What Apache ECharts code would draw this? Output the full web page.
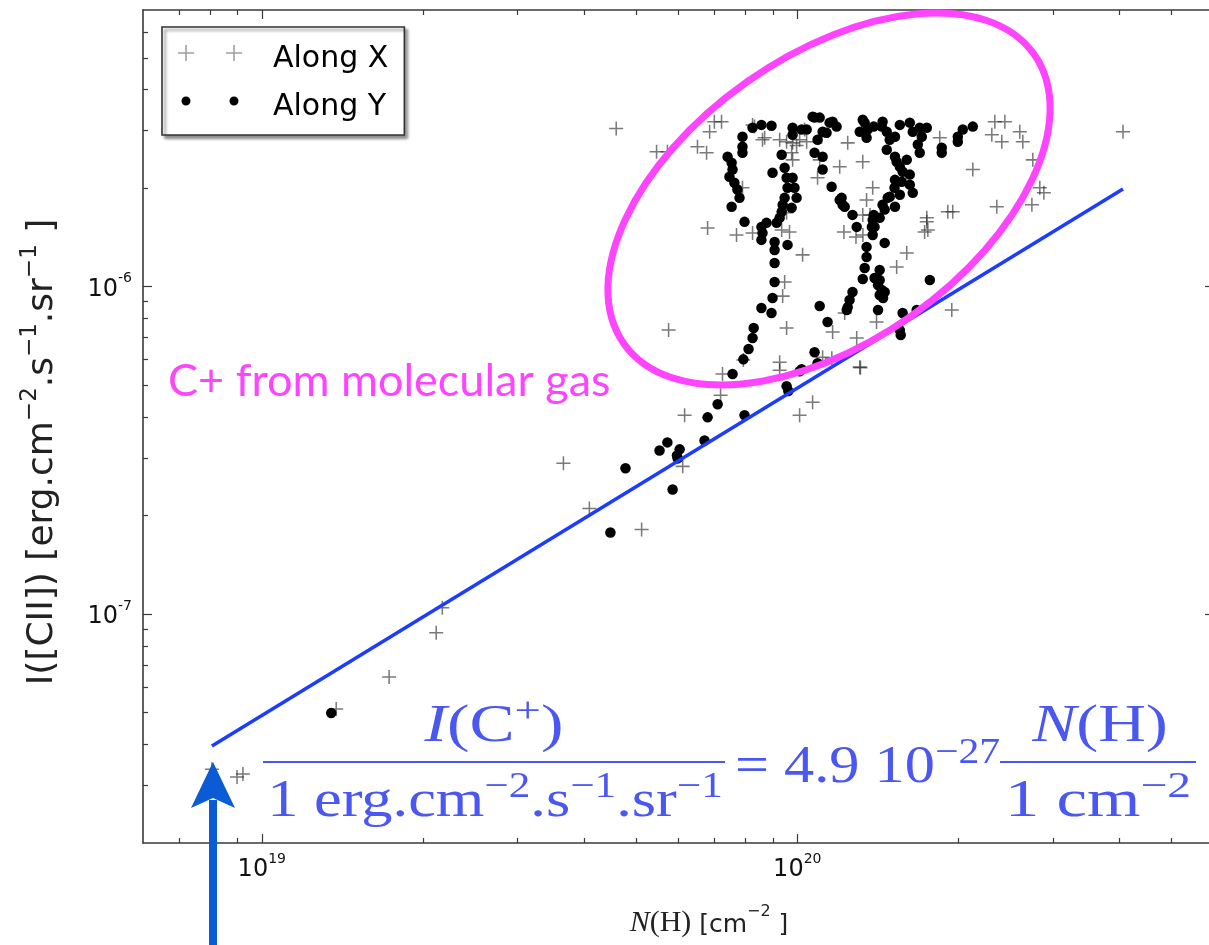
<!DOCTYPE html>
<html>
<head>
<meta charset="utf-8">
<script src="https://cdn.jsdelivr.net/npm/echarts@6/dist/echarts.min.js"></script>
<style>
  html, body { margin: 0; padding: 0; background: #ffffff; }
  #chart { width: 1209px; height: 945px; }
</style>
</head>
<body>
<div id="chart"></div>
<script>
// Column density N(H) in units of 1e20 cm^-2, [CII] intensity in units of 1e-6 erg cm^-2 s^-1 sr^-1
const N_UNIT = 1e20;
const I_UNIT = 1e-6;

// Cut along X
const alongXN = [
  0.0807, 0.0899, 0.0922, 0.1377, 0.1729, 0.2117, 0.2173, 0.3658, 0.409, 0.512,
  0.611, 0.616, 0.719, 0.725, 0.793, 0.575, 0.927, 0.927, 0.955, 0.939,
  0.947, 1.010, 1.068, 1.164, 1.226, 1.291, 1.115, 1.160, 1.308, 1.312,
  1.406, 1.533, 1.601, 1.943, 0.967, 1.023, 1.222, 1.287, 1.326, 1.729,
  1.745, 0.680, 0.770, 0.825, 0.790, 0.459, 0.546, 0.572, 0.651, 0.677,
  0.686, 0.700, 0.722, 0.825, 0.861, 0.927, 0.955, 0.980, 1.010, 0.976,
  0.980, 1.032, 1.101, 1.200, 1.091, 1.242, 1.325, 1.383, 1.347, 1.110,
  0.997, 1.041, 0.869, 1.845, 1.367, 1.325, 1.951, 1.910, 1.745, 1.753,
  2.127, 2.358, 2.338, 2.441, 2.308, 2.409, 2.603, 2.637, 2.753, 2.837,
  2.887, 2.742, 4.057, 0.955, 0.935, 0.832
];
const alongXI = [
  0.0336, 0.0318, 0.0325, 0.0513, 0.0643, 0.0877, 0.1046, 0.2888, 0.2102, 0.1813,
  0.2827, 0.405, 0.466, 0.541, 0.597, 0.737, 0.588, 0.556, 0.748, 0.936,
  1.034, 0.405, 0.444, 0.727, 0.831, 0.697, 0.609, 0.605, 0.568, 0.566,
  0.780, 1.149, 1.268, 0.849, 1.470, 1.251, 1.470, 1.419, 1.439, 1.470,
  1.578, 1.512, 1.439, 1.459, 2.005, 3.04, 2.585, 2.585, 2.677, 2.567,
  2.975, 3.19, 3.19, 3.12, 2.81, 2.81, 2.77, 2.75, 2.81, 2.567,
  2.44, 3.02, 2.44, 2.325, 2.151, 2.75, 2.408, 2.005, 1.84, 2.872,
  2.70, 2.77, 2.852, 2.852, 1.657, 1.657, 1.693, 1.693, 1.623, 1.49,
  2.28, 1.754, 3.19, 3.19, 2.91, 2.77, 2.975, 2.77, 2.44, 2.005,
  1.935, 1.78, 2.975, 1.681, 1.49, 3.083
];

// Cut along Y
const alongYN = [
  0.1348, 0.4477, 0.4777, 0.553, 0.572, 0.603, 0.596, 0.598, 0.585, 0.671,
  0.680, 0.710, 0.797, 0.757, 0.793, 0.811, 0.825, 0.829, 0.857, 0.895,
  0.899, 0.907, 0.907, 0.907, 0.959, 0.907, 0.861, 0.857, 0.797, 0.857,
  0.927, 0.915, 0.876, 0.935, 0.939, 0.947, 0.959, 0.955, 0.947, 0.899,
  0.935, 0.980, 0.988, 0.997, 0.976, 0.790, 0.790, 0.790, 0.741, 0.754,
  0.757, 0.747, 0.763, 0.773, 0.780, 0.754, 0.825, 0.857, 0.895, 0.980,
  1.019, 1.041, 0.980, 1.077, 1.101, 1.115, 1.164, 1.184, 1.134, 1.091,
  1.077, 1.115, 1.115, 1.159, 1.210, 1.215, 1.268, 1.291, 1.394, 1.383,
  1.347, 1.347, 1.336, 1.325, 1.394, 1.425, 1.415, 1.438, 1.425, 1.456,
  1.446, 1.415, 1.268, 1.252, 1.242, 1.237, 1.101, 1.139, 1.573, 1.671,
  1.768, 1.554, 1.560, 1.077, 1.091, 1.019, 0.955, 1.010, 1.325, 1.353,
  1.308, 1.438, 1.488, 1.469, 1.522, 1.519, 1.488, 1.456, 1.425, 1.336,
  1.347, 1.389, 1.443, 1.469, 1.522, 1.554, 1.622, 1.643, 1.693, 1.745,
  1.708, 1.679, 1.533, 1.554, 1.601, 1.573, 1.622, 1.567, 1.622, 1.522,
  1.643, 1.554, 1.475, 1.443, 1.522, 1.389, 1.383, 1.378, 1.861, 1.861,
  1.994, 1.994, 2.037, 2.127, 1.693, 1.456, 1.425, 1.226, 1.200, 1.149,
  1.068, 0.962
];
const alongYI = [
  0.0499, 0.1775, 0.2788, 0.316, 0.3346, 0.3186, 0.3053, 0.299, 0.2403, 0.339,
  0.399, 0.4375, 0.405, 0.541, 0.600, 0.645, 0.697, 0.748, 0.8605, 0.831,
  0.9235, 1.034, 1.182, 1.295, 1.342, 1.370, 1.459, 1.523, 1.578, 1.39,
  1.623, 1.567, 1.567, 1.693, 1.78, 1.868, 2.005, 2.151, 2.308, 2.228,
  2.53, 2.151, 2.005, 1.868, 1.741, 2.872, 2.677, 2.566, 2.495, 2.391,
  2.28, 2.166, 2.077, 1.98, 1.868, 1.754, 3.06, 3.12, 3.10, 3.06,
  3.02, 3.02, 2.91, 3.284, 3.284, 2.975, 3.19, 3.083, 2.954, 2.81,
  2.566, 2.495, 2.28, 2.02, 1.868, 1.78, 1.657, 1.523, 1.523, 1.439,
  1.323, 1.233, 1.141, 1.056, 1.063, 1.048, 1.012, 0.977, 0.943, 0.963,
  0.9235, 0.849, 0.963, 0.911, 0.866, 0.849, 0.873, 0.780, 0.831, 0.849,
  1.048, 0.737, 0.712, 0.631, 0.584, 0.560, 0.497, 0.552, 3.237, 3.02,
  2.975, 3.083, 2.81, 2.62, 2.495, 2.005, 1.882, 1.72, 1.623, 3.17,
  2.852, 3.083, 3.19, 2.975, 2.872, 3.12, 3.17, 2.975, 3.06, 3.06,
  2.872, 2.72, 2.408, 2.325, 2.44, 2.244, 2.20, 2.092, 2.05, 2.12,
  1.935, 1.91, 1.868, 1.78, 1.754, 1.657, 1.60, 1.523, 2.658, 2.566,
  2.872, 2.77, 3.02, 3.083, 2.566, 1.361, 1.125, 1.754, 1.84, 3.17,
  3.307, 0.48
];

// Linear relation I(C+) = 4.9e-27 N(H)
const FIT_COEF = 4.9e-27;

// Axis extents and tick positions (physical units)
const xRange = [6e18, 6e20];
const yRange = [2e-8, 7e-6];
const xMajor = [1e19, 1e20];
const xMinor = [7e18, 8e18, 9e18, 2e19, 3e19, 4e19, 5e19, 6e19, 7e19, 8e19, 9e19, 2e20, 3e20, 4e20, 5e20];
const yMajor = [1e-7, 1e-6];
const yMinor = [3e-8, 4e-8, 5e-8, 6e-8, 7e-8, 8e-8, 9e-8, 2e-7, 3e-7, 4e-7, 5e-7, 6e-7, 7e-7, 8e-7, 9e-7, 2e-6, 3e-6, 4e-6, 5e-6, 6e-6];

const seriesNames = ['Along X', 'Along Y'];

// Both axes are logarithmic: values are plotted as log10 on value axes
const lg = Math.log10;
const toPoints = (ns, is) => ns.map((n, k) => [lg(n * N_UNIT), lg(is[k] * I_UNIT)]);

const allN = alongXN.concat(alongYN);
const nLo = Math.min(...allN) * N_UNIT;
const nHi = Math.max(...allN) * N_UNIT;
const fitPoints = [[lg(nLo), lg(FIT_COEF * nLo)], [lg(nHi), lg(FIT_COEF * nHi)]];

const FRAME = '#3a3a3a';
const SANS = 'DejaVu Sans';
const SERIF = 'Liberation Serif';

const expLabel = v => '{b|10}{s|' + Math.round(v) + '}';
const tickRich = {
  b: { fontSize: 24, fontFamily: SANS, color: '#111', lineHeight: 30, verticalAlign: 'bottom' },
  s: { fontSize: 14, fontFamily: SANS, color: '#111', lineHeight: 14, verticalAlign: 'top' }
};

function makeAxis(kind, position, range, values, long, labelled) {
  const ax = {
    type: 'value',
    position: position,
    min: lg(range[0]),
    max: lg(range[1]),
    splitLine: { show: false },
    axisLine: { show: long, onZero: false, lineStyle: { color: FRAME, width: 1.6 } },
    axisTick: {
      show: true, inside: true, length: long ? 9 : 5,
      customValues: values.map(lg),
      lineStyle: { color: FRAME, width: 1.2 }
    },
    axisLabel: { show: false }
  };
  if (labelled) {
    ax.axisLabel = {
      show: true,
      customValues: values.map(lg),
      formatter: expLabel,
      margin: kind === 'x' ? 9 : 11,
      fontSize: 24, fontFamily: SANS, color: '#111',
      rich: tickRich
    };
  }
  return ax;
}

// Legend icons: two markers side by side, raised above the text centre
const PLUS_ICON = 'path://M0,0L0,0ZM90,32L90,32Z' +
  'M0,9.2H16V10.8H0ZM7.2,2H8.8V18H7.2Z' +
  'M48,9.2H64V10.8H48ZM55.2,2H56.8V18H55.2Z';
const DOT_ICON = 'path://M0,0L0,0ZM90,32L90,32Z' +
  'M3.5,10a4.5,4.5 0 1,0 9,0a4.5,4.5 0 1,0 -9,0Z' +
  'M51.5,10a4.5,4.5 0 1,0 9,0a4.5,4.5 0 1,0 -9,0Z';
const PLUS_SYMBOL = 'path://M0,8.9H20V11.1H0ZM8.9,0H11.1V20H8.9Z';

const BLUE_TXT = '#4a57f0';
const MAGENTA = '#ff44ff';
const ARROW = '#0b5bd6';

const serifTok = (size, italic) => ({
  fontSize: size, fontFamily: SERIF, fontStyle: italic ? 'italic' : 'normal',
  fill: BLUE_TXT, lineHeight: 58, verticalAlign: 'bottom'
});
const eqRich = {
  it: serifTok(52, true),
  rm: serifTok(52, false),
  sup: { fontSize: 36, fontFamily: SERIF, fill: BLUE_TXT, lineHeight: 34, verticalAlign: 'top' }
};
const eqText = (x, y, text, sx, align) => ({
  type: 'text', x: x, y: y, scaleX: sx, z: 20,
  style: { text: text, rich: eqRich,
           textAlign: align, textVerticalAlign: 'middle', align: align, verticalAlign: 'middle' }
});

const chart = echarts.init(document.getElementById('chart'), null, { renderer: 'canvas' });

chart.setOption({
  animation: false,
  backgroundColor: '#ffffff',
  grid: { left: 143, top: 10, width: 1071, height: 833, containLabel: false, outerBoundsMode: 'none' },
  xAxis: [
    makeAxis('x', 'bottom', xRange, xMajor, true, true),
    makeAxis('x', 'bottom', xRange, xMinor, false, false),
    makeAxis('x', 'top', xRange, xMajor, true, false),
    makeAxis('x', 'top', xRange, xMinor, false, false)
  ],
  yAxis: [
    makeAxis('y', 'left', yRange, yMajor, true, true),
    makeAxis('y', 'left', yRange, yMinor, false, false),
    makeAxis('y', 'right', yRange, yMajor, true, false),
    makeAxis('y', 'right', yRange, yMinor, false, false)
  ],
  legend: {
    orient: 'vertical',
    left: 162, top: 27,
    padding: [16, 16, 12, 16],
    itemGap: 16,
    itemWidth: 90, itemHeight: 32,
    backgroundColor: '#ffffff',
    borderColor: '#333333', borderWidth: 1.6,
    shadowColor: 'rgba(0,0,0,0.45)', shadowBlur: 3, shadowOffsetX: 3, shadowOffsetY: 3,
    textStyle: { fontSize: 30, fontFamily: SANS, color: '#000' },
    selectedMode: false,
    data: [
      { name: seriesNames[0], icon: PLUS_ICON, itemStyle: { color: '#a0a0a0' } },
      { name: seriesNames[1], icon: DOT_ICON, itemStyle: { color: '#000000' } }
    ]
  },
  series: [
    {
      name: seriesNames[0], type: 'scatter',
      symbol: PLUS_SYMBOL, symbolSize: 14,
      itemStyle: { color: 'rgba(40,40,40,0.62)', opacity: 1 },
      data: toPoints(alongXN, alongXI), z: 2
    },
    {
      name: seriesNames[1], type: 'scatter',
      symbol: 'circle', symbolSize: 10.5,
      itemStyle: { color: '#000000', opacity: 1 },
      data: toPoints(alongYN, alongYI), z: 3
    },
    {
      name: 'fit', type: 'line',
      data: fitPoints, showSymbol: false, symbol: 'none',
      lineStyle: { color: '#1c3cff', width: 3.5 }, z: 4, silent: true
    }
  ],
  graphic: [
    // region of molecular emission
    {
      type: 'ellipse', x: 829, y: 199, rotation: 35.2 * Math.PI / 180, z: 20,
      shape: { cx: 0, cy: 0, rx: 251, ry: 143 },
      style: { fill: 'none', stroke: MAGENTA, lineWidth: 7 }
    },
    {
      type: 'text', x: 168, y: 381, z: 20,
      style: { text: 'C+ from molecular gas', font: '45px Lato', fill: MAGENTA,
               textAlign: 'left', textVerticalAlign: 'middle', align: 'left', verticalAlign: 'middle' }
    },
    // equation of the linear relation
    eqText(494, 724, '{it|I}{rm|(C}{sup|+}{rm|)}', 1.3, 'center'),
    { type: 'line', z: 20, shape: { x1: 263, y1: 762, x2: 725, y2: 762 }, style: { stroke: BLUE_TXT, lineWidth: 2.2 } },
    eqText(495, 799, '{rm|1 erg.cm}{sup|−2}{rm|.s}{sup|−1}{rm|.sr}{sup|−1}', 1.2, 'center'),
    eqText(735, 765, '{rm|= 4.9 10}{sup|−27}', 1.16, 'left'),
    eqText(1100, 724, '{it|N}{rm|(H)}', 1.27, 'center'),
    { type: 'line', z: 20, shape: { x1: 1000, y1: 762, x2: 1196, y2: 762 }, style: { stroke: BLUE_TXT, lineWidth: 2.2 } },
    eqText(1098, 799, '{rm|1 cm}{sup|−2}', 1.32, 'center'),
    // arrow pointing at the faintest position
    { type: 'rect', z: 21, shape: { x: 209, y: 800, width: 8, height: 150 }, style: { fill: ARROW } },
    { type: 'polygon', z: 21, shape: { points: [[213, 762], [235, 808], [213, 798], [191, 808]] }, style: { fill: ARROW } },
    // axis titles
    {
      type: 'text', x: 709, y: 921, z: 20,
      style: {
        text: '{it|N}{rm|(H)}{sa| [cm}{ss|−2}{sa| ]}',
        rich: {
          it: { fontSize: 30, fontFamily: SERIF, fontStyle: 'italic', fill: '#222', lineHeight: 34, verticalAlign: 'bottom' },
          rm: { fontSize: 30, fontFamily: SERIF, fill: '#222', lineHeight: 34, verticalAlign: 'bottom' },
          sa: { fontSize: 25, fontFamily: SANS, fill: '#222', lineHeight: 34, verticalAlign: 'bottom' },
          ss: { fontSize: 16, fontFamily: SANS, fill: '#222', lineHeight: 17, verticalAlign: 'top' }
        },
        textAlign: 'center', textVerticalAlign: 'middle', align: 'center', verticalAlign: 'middle'
      }
    },
    {
      type: 'text', x: 40, y: 452, rotation: Math.PI / 2, z: 20,
      style: {
        text: '{sa|I([CII]) [erg.cm}{ss|−2}{sa|.s}{ss|−1}{sa|.sr}{ss|−1}{sa| ]}',
        rich: {
          sa: { fontSize: 36, fontFamily: SANS, fill: '#222', lineHeight: 42, verticalAlign: 'bottom' },
          ss: { fontSize: 23, fontFamily: SANS, fill: '#222', lineHeight: 22, verticalAlign: 'top' }
        },
        textAlign: 'center', textVerticalAlign: 'middle', align: 'center', verticalAlign: 'middle'
      }
    }
  ]
});
</script>
</body>
</html>
